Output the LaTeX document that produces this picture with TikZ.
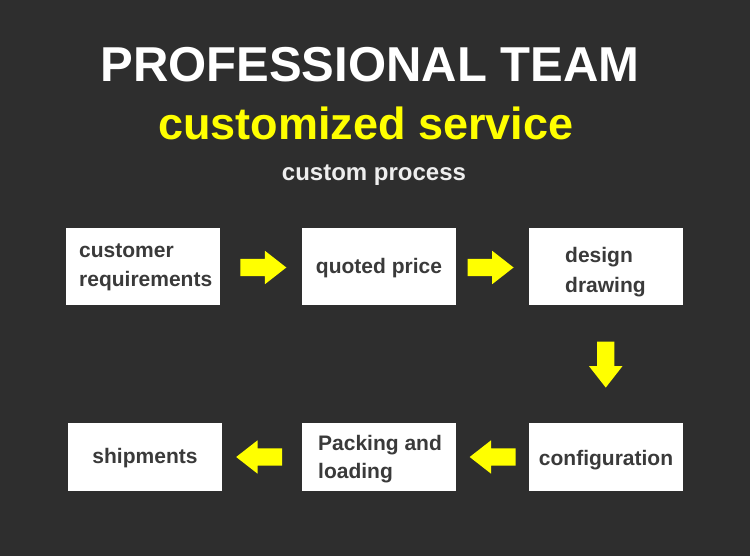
\documentclass[tikz,border=0pt]{standalone}
\usepackage{fontspec}
\setmainfont{Liberation Sans}
\usetikzlibrary{shapes.arrows,calc}
\definecolor{bg}{HTML}{2E2E2E}
\definecolor{boxtext}{HTML}{3A3A3A}
\definecolor{ylw}{HTML}{FFFF00}
\definecolor{sub}{HTML}{EEEEEE}
\begin{document}
\begin{tikzpicture}[x=1pt,y=-1pt,
  box/.style={fill=white, draw=none, minimum width=154pt, inner sep=0},
  lbl/.style={text=boxtext, font=\bfseries\fontsize{21}{24}\selectfont, inner sep=0},
  arr/.style={single arrow, fill=ylw, draw=none, inner sep=8.5pt,
    minimum height=46pt, single arrow head extend=8pt, single arrow tip angle=76}]
\fill[bg] (0,0) rectangle (750,556);
\useasboundingbox (0,0) rectangle (750,556);
% titles
\node[text=white, font=\bfseries\fontsize{49}{55}\selectfont, anchor=base, inner sep=0] (title) at (370,82) {PROFESSIONAL TEAM};
\node[text=ylw, font=\bfseries\fontsize{45}{50}\selectfont, anchor=base, inner sep=0] (sub1) at (366,140) {customized service};
\node[text=sub, font=\bfseries\fontsize{24}{28}\selectfont, anchor=base, inner sep=0] (sub2) at (374,181) {custom process};
% boxes
\node[box, minimum height=77pt] (b1) at (143,266.5) {};
\node[box, minimum height=77pt] (b2) at (378.5,266.5) {};
\node[box, minimum height=77pt] (b3) at (605.5,266.5) {};
\node[box, minimum height=68pt] (b6) at (145,457) {};
\node[box, minimum height=68pt] (b5) at (378.5,457) {};
\node[box, minimum height=68pt] (b4) at (606,457) {};
% labels
\node[lbl, anchor=base west] (t1a) at (79,258) {customer};
\node[lbl, anchor=base west] (t1b) at (79,287) {requirements};
\node[lbl, anchor=base] (t2) at (379,274) {quoted price};
\node[lbl, anchor=base west] (t3a) at (565,263) {design};
\node[lbl, anchor=base west] (t3b) at (565,292) {drawing};
\node[lbl, anchor=base] (t4) at (606,465) {configuration};
\node[lbl, anchor=base west] (t5a) at (318,450) {Packing and};
\node[lbl, anchor=base west] (t5b) at (318,478) {loading};
\node[lbl, anchor=base] (t6) at (145,463) {shipments};
% arrows
\node[arr] (a1) at ($(b1.east)!0.5!(b2.west)+(-3,1)$) {};
\node[arr] (a2) at ($(b2.east)!0.5!(b3.west)+(-7,1)$) {};
\node[arr, shape border rotate=270] (a3) at ($(b3.south)!0.5!(b4.north)+(0,-5)$) {};
\node[arr, shape border rotate=180] (a4) at ($(b4.west)!0.5!(b5.east)+(6,0)$) {};
\node[arr, shape border rotate=180] (a5) at ($(b5.west)!0.5!(b6.east)+(3,0)$) {};
\end{tikzpicture}
\end{document}
